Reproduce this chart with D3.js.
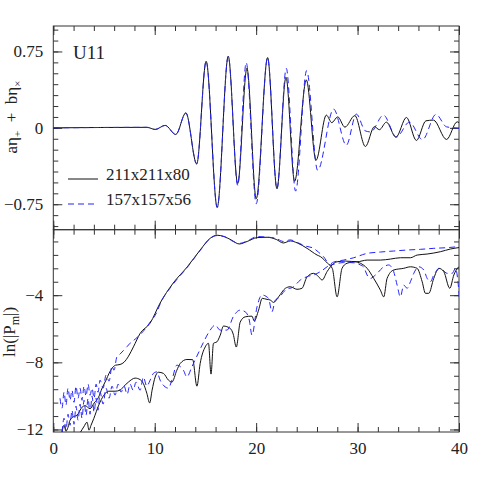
<!DOCTYPE html>
<html>
<head>
<meta charset="utf-8">
<script src="https://cdn.jsdelivr.net/npm/d3@7"></script>
<style>
  body { margin: 0; background: #fff; }
  svg text { font-family: 'Liberation Serif', 'DejaVu Serif', serif; fill: #222; }
  .axis line { stroke: #333; stroke-width: 1; }
  .axis path { display: none; }
</style>
</head>
<body>
<div id="chart"></div>
<script>
'use strict';

// top panel: a*eta_+ + b*eta_x  (t, value)
var top211 = [[0,0],[9.25,0.005],[10.04,-0.016],[11.03,0.024],[12.08,-0.065],[13.07,0.147],
  [14.14,-0.354],[15.07,0.654],[16.16,-0.781],[17.25,0.703],[18.18,-0.547],[19.09,0.585],
  [20.01,-0.696],[21.13,0.690],[22.05,-0.597],[22.94,0.497],[23.79,-0.525],[24.95,0.470],
  [25.90,-0.318],[26.92,0.125],[27.46,0.051],[28.04,0.108],[28.75,0.007],[29.73,0.120],
  [30.77,-0.183],[31.66,0.012],[32.15,-0.018],[32.84,0.056],[33.78,-0.092],[34.82,0.102],
  [35.80,-0.124],[36.74,0.069],[37.48,0.076],[38.77,-0.114],[39.82,0.059],[40,0.051]];

var top157 = [[0,0],[9.25,0.005],[10.04,-0.016],[11.03,0.024],[12.08,-0.065],[13.07,0.147],
  [14.14,-0.354],[15.07,0.654],[16.16,-0.781],[17.25,0.703],[18.18,-0.565],[19.02,0.640],
  [20.01,-0.745],[21.13,0.690],[22.05,-0.599],[22.97,0.585],[23.89,-0.621],[24.98,0.562],
  [26.06,-0.417],[27.64,0.184],[28.89,-0.170],[29.88,0.135],[30.77,-0.030],[31.30,-0.040],
  [32.55,0.125],[33.83,-0.090],[35.11,0.056],[36.40,-0.116],[37.73,0.132],[38.77,0.010],
  [40,-0.003]];

// bottom panel: ln(|P_m|), two modes per resolution
var modeA211 = [[0.86,-12.16],[1.06,-11.75],[1.25,-12.1],[1.45,-11.87],[1.65,-11.45],[1.99,-11.24],
  [2.34,-11.15],[2.84,-10.67],[3.13,-10.58],[3.62,-10.76],[4.02,-10.43],[4.46,-10.08],
  [4.81,-9.54],[5.20,-9.06],[5.50,-8.65],[5.79,-8.35],[6.14,-8.17],[6.58,-8.13],[6.98,-7.99],
  [7.42,-7.63],[7.90,-7.08],[8.56,-6.28],[9.55,-5.66],[10.53,-4.47],[11.82,-3.28],[13.20,-2.32],
  [14.48,-1.31],[15.47,-0.61],[16.16,-0.43],[16.85,-0.51],[17.54,-0.71],[18.33,-0.95],
  [19.12,-0.80],[20.11,-0.57],[21.07,-0.55],[21.98,-0.68],[22.68,-0.89],[23.37,-0.77],
  [24.06,-0.89],[25.02,-1.21],[26.01,-1.61],[26.33,-1.70],[27.02,-2.09],[27.51,-2.41],
  [27.98,-4.10],[28.47,-2.40],[28.96,-2.10],[29.78,-2.01],[30.28,-2.10],[30.94,-2.40],
  [31.59,-3.00],[32.25,-3.70],[32.58,-4.10],[32.91,-3.00],[33.56,-2.50],[34.55,-2.40],
  [35.21,-2.31],[35.87,-2.40],[36.37,-3.20],[36.69,-3.89],[37.02,-3.89],[37.51,-3.00],
  [38.01,-2.40],[38.50,-2.60],[39.09,-3.59],[39.49,-2.80],[39.98,-2.31],[40.05,-2.28]];

var modeB211 = [[2.64,-12.2],[3.0,-11.85],[3.33,-11.57],[3.52,-12.04],[3.72,-11.75],[3.99,-11.35],
  [4.48,-10.55],[4.98,-9.96],[5.47,-9.72],[6.09,-9.72],[6.58,-9.66],[6.91,-9.46],[7.40,-9.18],
  [8.07,-8.94],[8.56,-9.03],[8.88,-9.26],[9.22,-9.84],[9.50,-10.42],[9.74,-9.66],[10.04,-8.88],
  [10.37,-8.59],[10.86,-8.66],[11.35,-9.06],[11.69,-9.18],[12.18,-8.47],[12.51,-8.07],
  [13.17,-7.83],[13.74,-7.84],[14.16,-9.42],[14.48,-8.07],[14.98,-7.08],[15.30,-6.87],
  [15.55,-8.70],[15.79,-6.87],[16.13,-6.78],[16.46,-6.38],[16.78,-5.84],[17.44,-5.98],
  [17.74,-6.32],[18.04,-7.09],[18.43,-5.60],[18.92,-5.29],[19.59,-5.25],[19.81,-5.54],
  [20.24,-4.89],[20.60,-4.19],[21.07,-4.25],[21.39,-4.29],[21.72,-4.43],[22.21,-4.10],
  [22.88,-3.59],[23.36,-3.50],[24.03,-3.65],[24.52,-3.59],[25.01,-2.92],[25.67,-2.70],
  [26.16,-2.90],[26.50,-3.10],[26.99,-2.60],[27.48,-2.20],[27.98,-2.01],[28.80,-1.97],
  [29.95,-2.01],[30.94,-1.91],[32.25,-1.91],[33.23,-1.85],[34.22,-1.77],[35.21,-1.77],
  [35.87,-1.61],[36.86,-1.55],[38.17,-1.41],[39.16,-1.25],[40.05,-1.16]];

var modeA157 = [[0.66,-10.14],[0.86,-10.73],[1.06,-9.78],[1.25,-10.55],[1.45,-9.54],[1.65,-10.26],
  [1.84,-9.66],[2.04,-10.38],[2.24,-9.42],[2.44,-10.14],[2.64,-9.54],[2.83,-10.26],[3.03,-9.42],
  [3.23,-10.02],[3.43,-9.30],[3.62,-9.96],[3.82,-9.54],[4.02,-10.14],[4.22,-9.30],[4.41,-9.78],
  [4.61,-9.06],[4.91,-9.54],[5.20,-8.76],[5.50,-9.12],[5.79,-8.23],[5.99,-8.47],[6.26,-7.69],
  [6.58,-7.51],[6.91,-7.30],[7.28,-7.06],[7.57,-6.86],[8.07,-6.62],[8.56,-6.35],[9.05,-6.02],
  [9.55,-5.60],[10.21,-5.01],[10.53,-4.53],[11.82,-3.34],[13.20,-2.35],[14.48,-1.34],
  [15.47,-0.62],[16.16,-0.45],[16.85,-0.51],[17.54,-0.74],[18.33,-0.92],[19.12,-0.77],
  [20.11,-0.51],[21.07,-0.54],[21.98,-0.62],[22.68,-0.80],[23.36,-0.71],[24.06,-0.86],
  [24.85,-1.07],[25.67,-1.21],[26.13,-1.43],[26.65,-1.71],[27.31,-2.20],[27.90,-2.12],
  [28.60,-2.06],[29.29,-2.06],[29.88,-2.09],[30.27,-2.20],[30.60,-2.32],[30.94,-2.80],
  [31.26,-3.00],[31.76,-2.80],[32.58,-2.31],[33.07,-2.20],[33.56,-2.60],[33.90,-3.40],
  [34.22,-4.10],[34.55,-3.40],[34.89,-3.59],[35.21,-3.20],[35.54,-2.70],[36.03,-2.31],
  [36.53,-2.50],[36.86,-3.00],[37.18,-3.20],[37.51,-2.80],[38.17,-2.40],[38.83,-2.70],
  [39.33,-2.70],[39.66,-2.40],[39.90,-3.22],[40.05,-4.29]];

var modeB157 = [[0.86,-12.16],[1.06,-11.33],[1.25,-12.04],[1.45,-11.09],[1.65,-11.75],[1.84,-10.85],
  [2.04,-11.69],[2.24,-10.61],[2.44,-11.45],[2.64,-10.49],[2.83,-11.33],[3.03,-10.26],
  [3.23,-11.15],[3.43,-10.14],[3.62,-11.09],[3.82,-10.02],[4.02,-10.97],[4.22,-10.14],
  [4.41,-10.85],[4.61,-9.78],[4.91,-10.49],[5.20,-9.54],[5.50,-10.14],[5.79,-9.42],[6.09,-9.96],
  [6.39,-9.30],[6.68,-9.78],[6.98,-9.42],[7.28,-9.90],[7.57,-9.30],[7.87,-9.66],[8.16,-9.18],
  [8.56,-9.66],[8.88,-8.88],[9.22,-9.42],[9.55,-9.06],[9.87,-8.66],[10.21,-8.57],[10.53,-9.06],
  [11.02,-9.46],[11.35,-9.54],[11.69,-9.06],[12.18,-8.17],[12.83,-8.47],[13.17,-8.87],
  [13.66,-8.27],[14.16,-7.63],[14.81,-6.80],[15.47,-6.08],[15.96,-5.78],[16.45,-6.08],
  [17.12,-6.08],[17.77,-5.25],[18.43,-4.89],[18.92,-4.99],[19.32,-5.48],[19.59,-6.38],
  [20.08,-4.71],[20.57,-3.99],[21.22,-4.19],[21.56,-4.99],[21.89,-4.29],[22.21,-4.17],
  [22.88,-3.70],[23.69,-3.50],[24.35,-3.10],[25.01,-2.90],[25.83,-2.76],[26.33,-2.60],
  [26.99,-2.31],[27.64,-2.03],[28.63,-1.91],[29.62,-1.77],[30.94,-1.51],[32.25,-1.43],
  [33.56,-1.37],[34.89,-1.31],[36.20,-1.27],[37.51,-1.21],[38.83,-1.17],[40.05,-1.10]];

var xMajor = [0, 10, 20, 30, 40];
var topMajor = [-0.75, 0, 0.75];
var botMajor = [-12, -8, -4];
var legendNames = ['211x211x80', '157x157x56'];

var FONT = "'Liberation Serif', 'DejaVu Serif', serif";
var plotL = 53.3, plotR = 459, topY0 = 26, midY = 229.7, botY1 = 432;
var colorHi = '#111', colorLo = '#2323ff';

var svg = d3.select('#chart').append('svg')
  .attr('width', 485)
  .attr('height', 485)
  .attr('font-family', FONT);

var x = d3.scaleLinear().domain([0, 40]).range([plotL, plotR]);
var yTop = d3.scaleLinear().domain([-1, 1]).range([midY, topY0]);
var yBot = d3.scaleLinear().domain([-12.15, -0.1]).range([botY1, midY]);

var xMinor = d3.range(0, 41, 2);
var topMinor = d3.range(-9, 10).map(function(k) { return k * 0.75 / 7; });
var botMinor = d3.range(0, 15).map(function(k) { return -12 + 0.8 * k; });

function addAxis(axisFn, scale, values, size, tx, ty, fmt) {
  var ax = axisFn(scale).tickValues(values).tickSize(-size).tickSizeOuter(0).tickPadding(10);
  ax.tickFormat(fmt || '');
  var g = svg.append('g')
    .attr('class', 'axis')
    .attr('transform', 'translate(' + tx + ',' + ty + ')')
    .call(ax);
  g.attr('font-family', FONT).attr('font-size', 17);
  g.selectAll('text').attr('fill', '#222');
  return g;
}

function panel(y, y0, y1, minor, major, fmt, xLabels) {
  svg.append('rect')
    .attr('x', plotL).attr('y', y0)
    .attr('width', plotR - plotL).attr('height', y1 - y0)
    .attr('fill', 'none').attr('stroke', '#333').attr('stroke-width', 1);

  addAxis(d3.axisLeft, y, minor, 5, plotL, 0);
  addAxis(d3.axisLeft, y, major, 9, plotL, 0, fmt);
  addAxis(d3.axisRight, y, minor, 5, plotR, 0);
  addAxis(d3.axisRight, y, major, 9, plotR, 0);
  addAxis(d3.axisTop, x, xMinor, 5, 0, y0);
  addAxis(d3.axisTop, x, xMajor, 9, 0, y0);
  addAxis(d3.axisBottom, x, xMinor, 5, 0, y1);
  addAxis(d3.axisBottom, x, xMajor, 9, 0, y1, xLabels ? d3.format('d') : null);
}

panel(yTop, topY0, midY, topMinor, topMajor,
  function(d) { return d === 0 ? '0' : d3.format('.2f')(d); }, false);
panel(yBot, midY, botY1, botMinor, botMajor, d3.format('d'), true);

// clip paths
var defs = svg.append('defs');
defs.append('clipPath').attr('id', 'clipTop').append('rect')
  .attr('x', plotL).attr('y', topY0).attr('width', plotR - plotL).attr('height', midY - topY0);
defs.append('clipPath').attr('id', 'clipBot').append('rect')
  .attr('x', plotL).attr('y', midY).attr('width', plotR - plotL).attr('height', botY1 - midY);

function drawLine(data, y, clip, color, dashed) {
  var line = d3.line()
    .x(function(d) { return x(d[0]); })
    .y(function(d) { return y(d[1]); })
    .curve(d3.curveMonotoneX);
  svg.append('path')
    .datum(data)
    .attr('clip-path', 'url(#' + clip + ')')
    .attr('fill', 'none')
    .attr('stroke', color)
    .attr('stroke-width', 1)
    .attr('stroke-dasharray', dashed ? '6,4' : null)
    .attr('d', line);
}

drawLine(top211, yTop, 'clipTop', colorHi, false);
drawLine(top157, yTop, 'clipTop', colorLo, true);
drawLine(modeA211, yBot, 'clipBot', colorHi, false);
drawLine(modeB211, yBot, 'clipBot', colorHi, false);
drawLine(modeA157, yBot, 'clipBot', colorLo, true);
drawLine(modeB157, yBot, 'clipBot', colorLo, true);

// panel label
svg.append('text')
  .attr('x', 73).attr('y', 58.5)
  .attr('font-size', 19)
  .text('U11');

// legend
[colorHi, colorLo].forEach(function(c, i) {
  var ly = 179 + i * 25;
  svg.append('line')
    .attr('x1', 68).attr('x2', 98).attr('y1', ly).attr('y2', ly)
    .attr('stroke', c).attr('stroke-width', 1)
    .attr('stroke-dasharray', i ? '6,4' : null);
  svg.append('text')
    .attr('x', 106).attr('y', ly + 1)
    .attr('font-size', 17)
    .text(legendNames[i]);
});

// y titles
var t1 = svg.append('text')
  .attr('transform', 'translate(16.5,117) rotate(-90)')
  .attr('text-anchor', 'middle')
  .attr('font-size', 17);
t1.append('tspan').text('a\u03b7');
t1.append('tspan').attr('dy', 4).attr('font-size', 11).text('+');
t1.append('tspan').attr('dy', -4).text('\u2002+\u2002b\u03b7');
t1.append('tspan').attr('dy', 4).attr('font-size', 11).text('\u00d7');

var t2 = svg.append('text')
  .attr('transform', 'translate(15,332) rotate(-90)')
  .attr('text-anchor', 'middle')
  .attr('font-size', 17);
t2.append('tspan').text('ln(|P');
t2.append('tspan').attr('dy', 4).attr('font-size', 12).text('m');
t2.append('tspan').attr('dy', -4).text('|)');
</script>
</body>
</html>
